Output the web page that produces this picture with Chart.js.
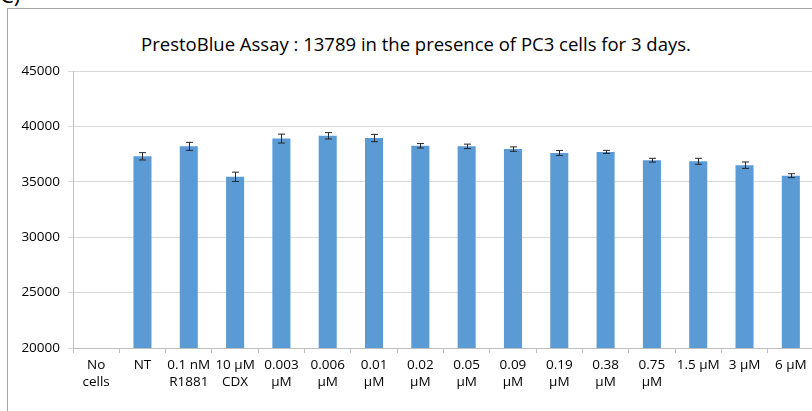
<!DOCTYPE html>
<html>
<head>
<meta charset="utf-8">
<script src="https://cdn.jsdelivr.net/npm/chart.js@4.4.1/dist/chart.umd.min.js"></script>
<style>
  html, body { margin: 0; padding: 0; background: #fff; overflow: hidden; }
  body { width: 812px; height: 411px; position: relative; }
  #frame { position: absolute; left: 7px; top: 8px; width: 900px; height: 500px;
    border-left: 1px solid #a6a6a6; border-top: 1px solid #a6a6a6; }
  #panel { position: absolute; left: 0; top: -21px; font: 22px "Open Sans", sans-serif; color: #000; }
  #title { position: absolute; left: 116px; width: 600px; top: 31px; text-align: center;
    font: 18.5px "Open Sans", sans-serif; color: #000; white-space: nowrap; }
  #wrap { position: absolute; left: 0; top: 0; width: 900px; height: 411px; }
</style>
</head>
<body>
<div id="frame"></div>
<div id="panel">C)</div>
<div id="title">PrestoBlue Assay : 13789 in the presence of PC3 cells for 3 days.</div>
<div id="wrap"><canvas id="c"></canvas></div>
<script>
  // values
  const categories = [
    ['No', 'cells'], 'NT', ['0.1 nM', 'R1881'], ['10 µM', 'CDX'], ['0.003', 'µM'], ['0.006', 'µM'],
    ['0.01', 'µM'], ['0.02', 'µM'], ['0.05', 'µM'], ['0.09', 'µM'], ['0.19', 'µM'], ['0.38', 'µM'],
    ['0.75', 'µM'], '1.5 µM', '3 µM', '6 µM'
  ];
  const values = [19880, 37300, 38200, 35450, 38900, 39150, 38950, 38250, 38200, 37950, 37600, 37700, 36950, 36850, 36500, 35550];
  const errors = [30, 330, 360, 420, 400, 290, 330, 200, 200, 200, 230, 140, 170, 270, 290, 180];
  const yTicks = [20000, 25000, 30000, 35000, 40000, 45000];

  const errorBars = {
    id: 'errorBars',
    afterDatasetsDraw: function (chart) {
      const meta = chart.getDatasetMeta(0);
      const y = chart.scales.y;
      const ctx = chart.ctx;
      ctx.save();
      ctx.strokeStyle = '#262626';
      ctx.lineWidth = 1;
      meta.data.forEach(function (bar, i) {
        if (values[i] < y.min) return;
        const x = Math.round(bar.x) + 0.5;
        const yHi = y.getPixelForValue(values[i] + errors[i]);
        const yLo = y.getPixelForValue(values[i] - errors[i]);
        ctx.beginPath();
        ctx.moveTo(x, yHi);
        ctx.lineTo(x, yLo);
        ctx.moveTo(x - 3.5, yHi);
        ctx.lineTo(x + 3.5, yHi);
        ctx.moveTo(x - 3.5, yLo);
        ctx.lineTo(x + 3.5, yLo);
        ctx.stroke();
      });
      ctx.restore();
    }
  };

  new Chart(document.getElementById('c'), {
    type: 'bar',
    data: {
      labels: categories,
      datasets: [{
        data: values,
        backgroundColor: '#5b9bd5',
        borderWidth: 0,
        barPercentage: 0.6,
        categoryPercentage: 0.65
      }]
    },
    options: {
      responsive: true,
      maintainAspectRatio: false,
      animation: false,
      events: [],
      layout: { padding: { top: 71, right: 86, left: 0, bottom: 0 } },
      plugins: { legend: { display: false }, tooltip: { enabled: false } },
      scales: {
        x: {
          offset: true,
          afterFit: function (s) { s.height = 63; },
          grid: { offset: true, drawOnChartArea: false, drawTicks: true, tickLength: 5, color: '#bfbfbf' },
          border: { color: '#bfbfbf' },
          ticks: {
            color: '#000', padding: 4, maxRotation: 0, autoSkip: false,
            font: { family: 'Open Sans', size: 13.5, lineHeight: 1.25 }
          }
        },
        y: {
          min: 20000,
          max: 45000,
          afterFit: function (s) { s.width = 73; },
          afterBuildTicks: function (s) { s.ticks = yTicks.map(function (v) { return { value: v }; }); },
          grid: { color: '#d9d9d9', tickLength: 5 },
          border: { color: '#bfbfbf' },
          ticks: {
            color: '#000', padding: 8,
            font: { family: 'Open Sans', size: 13.5 },
            callback: function (v) { return String(v); }
          }
        }
      }
    },
    plugins: [errorBars]
  });
</script>
</body>
</html>
